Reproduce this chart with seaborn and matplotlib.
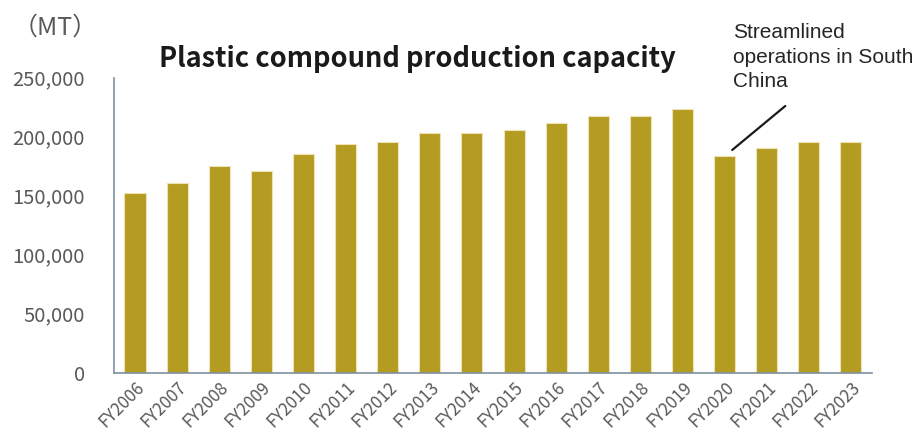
import numpy as np
import pandas as pd
import seaborn as sns
import matplotlib.pyplot as plt

# capacity values (MT)
years = ["FY2006", "FY2007", "FY2008", "FY2009", "FY2010", "FY2011",
         "FY2012", "FY2013", "FY2014", "FY2015", "FY2016", "FY2017",
         "FY2018", "FY2019", "FY2020", "FY2021", "FY2022", "FY2023"]
capacity = [152500, 160400, 174900, 170900, 185300, 193500,
            195200, 203100, 203100, 205600, 211600, 217500,
            217500, 223200, 183600, 190600, 195700, 195700]
yticks = [0, 50000, 100000, 150000, 200000, 250000]

df = pd.DataFrame({"year": years, "capacity": capacity})

sns.set_theme(style="white")
plt.rcParams["font.family"] = ["Noto Sans CJK JP", "DejaVu Sans"]

fig = plt.figure(figsize=(9.22, 4.30), dpi=100)
ax = fig.add_axes([0.1236, 0.1337, 0.8222, 0.6856])

sns.barplot(data=df, x="year", y="capacity", color="#B49B21", saturation=1,
            width=0.5, edgecolor="#EDE3B5", linewidth=0.8, ax=ax)

ax.set_xlim(-0.5, len(years) - 0.5)
ax.set_ylim(0, 250000)
ax.set_yticks(yticks)
ax.set_yticklabels([f"{v:,}" for v in yticks], fontsize=14.5, color="#595959")
ax.set_xticks(range(len(years)))
ax.set_xticklabels(years, rotation=45, ha="right", rotation_mode="anchor",
                   fontsize=12.2, color="#595959")
ax.tick_params(axis="x", length=0, pad=4)
ax.tick_params(axis="y", length=0, pad=21)
ax.set_xlabel("")
ax.set_ylabel("")

for side in ["top", "right"]:
    ax.spines[side].set_visible(False)
for side in ["left", "bottom"]:
    ax.spines[side].set_color("#7F8F9F")
    ax.spines[side].set_linewidth(1.2)

fig.text(0.06, 0.935, "（MT）", fontsize=18, color="#595959",
         ha="center", va="center")
fig.text(0.453, 0.862, "Plastic compound production capacity", fontsize=19.6,
         fontweight="bold", color="#1A1A1A", ha="center", va="center")

# annotation for FY2020
fig.text(0.795, 0.946, "Streamlined\noperations in South\nChina",
         fontsize=15, family="Liberation Sans", color="#262626",
         ha="left", va="top", linespacing=1.36)
ax.annotate("", xy=(14.18, 188700), xycoords="data",
            xytext=(15.44, 226000), textcoords="data",
            annotation_clip=False,
            arrowprops=dict(arrowstyle="-", color="#1A1A1A", lw=1.6,
                            shrinkA=0, shrinkB=0))

fig.savefig("out.png", dpi=100)
